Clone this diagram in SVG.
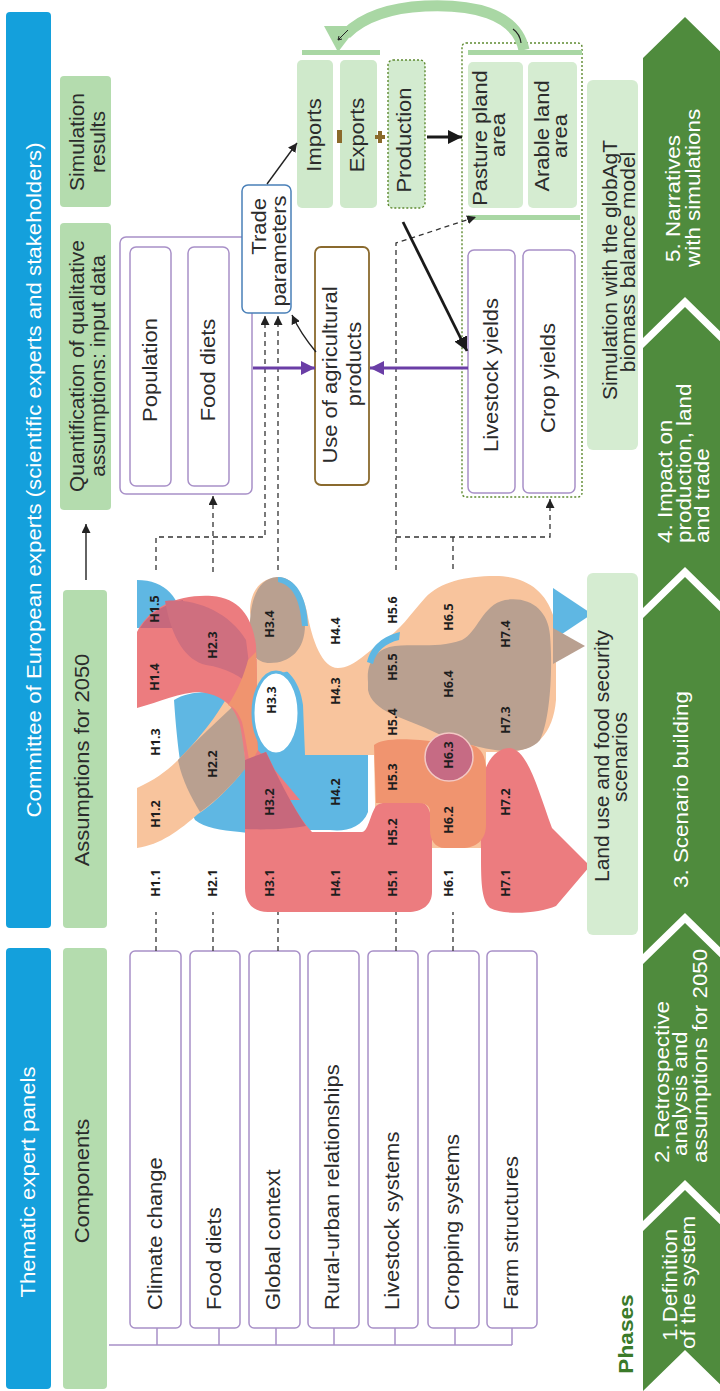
<svg xmlns="http://www.w3.org/2000/svg" width="720" height="1391" viewBox="0 0 720 1391">
<defs>
<style>
.t{font-family:"Liberation Sans",Arial,sans-serif;font-size:20px;fill:#2b2b2b}
.hd{font-family:"Liberation Sans",Arial,sans-serif;font-size:21px;fill:#fff}
.cv{font-family:"Liberation Sans",Arial,sans-serif;font-size:19.5px;fill:#fff}
.h{font-family:"Open Sans","Liberation Sans",sans-serif;font-size:12.5px;font-weight:bold;fill:#1e1e1e}
.ph{font-family:"Liberation Sans",Arial,sans-serif;font-size:21px;font-weight:bold;fill:#3a7a2a}
.bar{fill:#14a0dc}
.lab{fill:#b4dcae}
.lab2{fill:#d5ecd1}
.lab3{fill:#cfe9cb}
.comp{fill:#fff;stroke:#a890c8;stroke-width:1.5}
.dash{fill:none;stroke:#333;stroke-width:1.3;stroke-dasharray:5 4}
.thin{fill:none;stroke:#222;stroke-width:1.4}
.thick{fill:none;stroke:#1a1a1a;stroke-width:2.8}
.pur{fill:none;stroke:#6a3ea6;stroke-width:3}
.dot{stroke:#5e8a30;stroke-width:1.4;stroke-dasharray:2 2}
.chev{fill:#4f8b3d}
.gbar{fill:#a9d7a4}
</style>
<marker id="ah" viewBox="0 0 10 10" refX="10" refY="5" markerWidth="9" markerHeight="9" markerUnits="userSpaceOnUse" orient="auto"><path d="M0,0 L10,5 L0,10 Z" fill="#222"/></marker>
<marker id="ahb" viewBox="0 0 10 10" refX="10" refY="5" markerWidth="14" markerHeight="14" markerUnits="userSpaceOnUse" orient="auto"><path d="M0,0 L10,5 L0,10 Z" fill="#1a1a1a"/></marker>
<marker id="ahp" viewBox="0 0 10 10" refX="10" refY="5" markerWidth="14" markerHeight="14" markerUnits="userSpaceOnUse" orient="auto"><path d="M0,0 L10,5 L0,10 Z" fill="#6a3ea6"/></marker>
</defs>

<g id="committee">
<rect class="bar" x="6" y="12" width="45" height="916" rx="4"/>
<text class="hd" text-anchor="middle" transform="translate(41,480) rotate(-90) scale(1.06,1)">Committee of European experts (scientific experts and stakeholders)</text>
</g>
<g id="thematic">
<rect class="bar" x="6" y="948" width="45" height="441" rx="4"/>
<text class="hd" text-anchor="middle" transform="translate(35,1182) rotate(-90) scale(1.06,1)">Thematic expert panels</text>
</g>

<g id="components-label">
<rect class="lab" x="63" y="948" width="44" height="441" rx="4"/>
<text class="t" text-anchor="middle" transform="translate(89,1181) rotate(-90) scale(1.1,1)">Components</text>
</g>
<g id="assumptions-label">
<rect class="lab" x="63" y="590" width="44" height="338" rx="4"/>
<text class="t" text-anchor="middle" transform="translate(89,760) rotate(-90) scale(1.1,1)">Assumptions for 2050</text>
</g>
<g id="quantification-label">
<rect class="lab" x="60" y="223" width="51" height="287" rx="4"/>
<text class="t" text-anchor="middle" transform="translate(84,366) rotate(-90) scale(1.05,1)">Quantification of qualitative</text>
<text class="t" text-anchor="middle" transform="translate(105,366) rotate(-90) scale(1.05,1)">assumptions: input data</text>
</g>
<g id="results-label">
<rect class="lab" x="60" y="76" width="51" height="131" rx="4"/>
<text class="t" text-anchor="middle" transform="translate(84,142) rotate(-90) scale(1.05,1)">Simulation</text>
<text class="t" text-anchor="middle" transform="translate(105,142) rotate(-90) scale(1.05,1)">results</text>
</g>

<g id="comp-climate"><rect class="comp" x="130" y="951" width="51" height="377" rx="5"/><text class="t" transform="translate(161.5,1310) rotate(-90) scale(1.1,1)">Climate change</text></g>
<g id="comp-food"><rect class="comp" x="190" y="951" width="50" height="377" rx="5"/><text class="t" transform="translate(220.5,1310) rotate(-90) scale(1.1,1)">Food diets</text></g>
<g id="comp-global"><rect class="comp" x="249" y="951" width="51" height="377" rx="5"/><text class="t" transform="translate(280,1310) rotate(-90) scale(1.1,1)">Global context</text></g>
<g id="comp-rural"><rect class="comp" x="308" y="951" width="51" height="377" rx="5"/><text class="t" transform="translate(339,1310) rotate(-90) scale(1.1,1)">Rural-urban relationships</text></g>
<g id="comp-livestock"><rect class="comp" x="368" y="951" width="50" height="377" rx="5"/><text class="t" transform="translate(398.5,1310) rotate(-90) scale(1.1,1)">Livestock systems</text></g>
<g id="comp-cropping"><rect class="comp" x="428" y="951" width="51" height="377" rx="5"/><text class="t" transform="translate(459,1310) rotate(-90) scale(1.1,1)">Cropping systems</text></g>
<g id="comp-farm"><rect class="comp" x="487" y="951" width="50" height="377" rx="5"/><text class="t" transform="translate(517.5,1310) rotate(-90) scale(1.1,1)">Farm structures</text></g>

<g id="scenario-blobs">
<path fill="#5fb7e3" d="M137,580 C165,580 182,598 183,628 L137,628 Z"/>
<path fill="#5fb7e3" d="M174,700 C190,690 215,690 240,698 C248,685 255,668 268,665 C290,662 305,680 305,700 L305,755 L368,755 L368,812 C362,828 345,832 330,830 L300,830 C280,835 260,835 240,832 C220,830 205,828 195,820 C185,800 178,760 174,700 Z"/>
<path fill="#f8c49d" d="M137,788 C155,780 168,770 178,760 C200,738 228,705 245,660 L300,655 L300,672 C280,668 262,680 258,700 C255,730 250,755 240,775 C225,792 212,805 198,814 C180,830 160,845 137,848 Z"/>
<path fill="#f8c49d" d="M250,612 C250,590 262,578 276,578 C292,578 303,592 307,612 C312,640 322,668 338,668 C355,668 368,650 385,640 C400,630 410,615 425,598 C440,582 465,576 495,576 C525,576 545,590 553,615 L556,640 L556,700 C553,735 535,752 505,752 L486,752 L486,848 L376,848 L374,755 L305,755 L303,705 C300,680 285,662 260,660 Z"/>
<path fill="#b9a090" d="M178,760 C195,742 220,718 240,700 L246,768 C232,785 215,802 200,812 C190,795 182,780 178,760 Z"/>
<path fill="#b9a090" d="M250,640 C248,600 258,578 277,577 C295,577 305,595 305,625 C305,650 290,663 270,663 C258,663 250,655 250,640 Z"/>
<path fill="#5fb7e3" d="M278,577 C295,578 307,595 308,626 L302,626 C300,598 292,585 278,582 Z"/>
<path fill="#b9a090" d="M368,682 C366,660 378,648 395,646 C420,644 440,648 462,640 C478,632 482,605 505,600 C530,596 548,610 550,635 C553,670 550,720 540,740 C530,752 510,752 495,750 C470,746 450,740 430,730 C405,718 372,712 368,690 Z"/>
<path fill="#5fb7e3" d="M367,662 C371,645 384,636 400,632 L399,640 C386,643 376,651 373,664 Z"/>
<path fill="#ec7c7f" d="M137,632 C150,606 180,594 212,596 C238,598 252,615 256,645 C258,680 255,715 258,750 L300,800 L250,800 C246,770 244,745 240,725 C234,705 222,695 200,692 C180,692 160,702 137,708 Z"/>
<path fill="#c7687c" d="M140,628 C150,612 165,604 183,600 L183,628 Z"/>
<path fill="#cf6f7f" d="M165,601 C192,598 228,610 246,640 L252,688 C242,676 226,668 206,665 C186,660 172,640 165,601 Z"/>
<path fill="#f0946f" d="M228,705 C238,690 244,675 248,660 L256,652 C258,690 255,720 258,750 L250,765 C247,748 245,735 242,722 C238,712 234,707 228,705 Z"/>
<ellipse cx="276" cy="713" rx="23" ry="41" fill="#fff" stroke="#5fb7e3" stroke-width="3"/>
<path fill="#ec7c7f" d="M245,760 L266,752 C282,785 296,815 312,832 L362,832 C368,832 370,815 376,806 C380,803 385,802 392,802 L418,802 C428,802 432,812 432,830 L432,892 C432,905 422,912 408,912 L268,912 C252,912 245,902 245,888 Z"/>
<path fill="#c7687c" d="M245,760 L266,752 C280,782 292,805 306,826 C290,829 265,830 245,829 Z"/>
<path fill="#ec7c7f" d="M480,800 C480,770 492,748 510,748 C528,750 538,790 552,828 L590,866 L556,906 C540,913 505,916 490,908 C481,900 481,880 481,850 Z"/>
<path fill="#f0946f" d="M374,745 C380,740 395,738 420,740 L470,745 C480,746 486,755 486,770 L486,825 C486,840 476,848 462,848 L445,848 C435,848 430,840 430,830 L430,812 C430,806 426,803 418,803 L376,803 Z"/>
<circle cx="449" cy="757" r="24" fill="#c66b84" stroke="#f3c8c4" stroke-width="1.5"/>
<path fill="#5fb7e3" d="M553,588 L592,614 L553,640 Z"/>
<path fill="#b9a090" d="M553,628 L585,646 L553,664 Z"/>
</g>

<g id="h-labels">
<text class="h" text-anchor="middle" transform="translate(160.4,883) rotate(-90)">H1.1</text>
<text class="h" text-anchor="middle" transform="translate(160.4,814) rotate(-90)">H1.2</text>
<text class="h" text-anchor="middle" transform="translate(160.4,742) rotate(-90)">H1.3</text>
<text class="h" text-anchor="middle" transform="translate(159.4,677) rotate(-90)">H1.4</text>
<text class="h" text-anchor="middle" transform="translate(159.4,609) rotate(-90)">H1.5</text>
<text class="h" text-anchor="middle" transform="translate(217.4,883) rotate(-90)">H2.1</text>
<text class="h" text-anchor="middle" transform="translate(217.4,764) rotate(-90)">H2.2</text>
<text class="h" text-anchor="middle" transform="translate(217.4,645) rotate(-90)">H2.3</text>
<text class="h" text-anchor="middle" transform="translate(274.4,883) rotate(-90)">H3.1</text>
<text class="h" text-anchor="middle" transform="translate(274.4,802) rotate(-90)">H3.2</text>
<text class="h" text-anchor="middle" transform="translate(276.4,700) rotate(-90)">H3.3</text>
<text class="h" text-anchor="middle" transform="translate(274.4,624) rotate(-90)">H3.4</text>
<text class="h" text-anchor="middle" transform="translate(340.4,883) rotate(-90)">H4.1</text>
<text class="h" text-anchor="middle" transform="translate(340.4,792) rotate(-90)">H4.2</text>
<text class="h" text-anchor="middle" transform="translate(340.4,691) rotate(-90)">H4.3</text>
<text class="h" text-anchor="middle" transform="translate(340.4,631) rotate(-90)">H4.4</text>
<text class="h" text-anchor="middle" transform="translate(397.4,883) rotate(-90)">H5.1</text>
<text class="h" text-anchor="middle" transform="translate(397.4,832) rotate(-90)">H5.2</text>
<text class="h" text-anchor="middle" transform="translate(397.4,777) rotate(-90)">H5.3</text>
<text class="h" text-anchor="middle" transform="translate(397.4,722) rotate(-90)">H5.4</text>
<text class="h" text-anchor="middle" transform="translate(397.4,667) rotate(-90)">H5.5</text>
<text class="h" text-anchor="middle" transform="translate(397.4,610) rotate(-90)">H5.6</text>
<text class="h" text-anchor="middle" transform="translate(453.4,883) rotate(-90)">H6.1</text>
<text class="h" text-anchor="middle" transform="translate(453.4,820) rotate(-90)">H6.2</text>
<text class="h" text-anchor="middle" transform="translate(453.4,755) rotate(-90)">H6.3</text>
<text class="h" text-anchor="middle" transform="translate(453.4,684) rotate(-90)">H6.4</text>
<text class="h" text-anchor="middle" transform="translate(453.4,617) rotate(-90)">H6.5</text>
<text class="h" text-anchor="middle" transform="translate(510.4,883) rotate(-90)">H7.1</text>
<text class="h" text-anchor="middle" transform="translate(510.4,802) rotate(-90)">H7.2</text>
<text class="h" text-anchor="middle" transform="translate(510.4,720) rotate(-90)">H7.3</text>
<text class="h" text-anchor="middle" transform="translate(510.4,634) rotate(-90)">H7.4</text>
</g>

<g id="input-data">
<rect class="comp" x="120" y="237" width="132" height="257" rx="6"/>
</g>
<g id="population"><rect class="comp" x="130" y="247" width="41" height="239" rx="6"/><text class="t" text-anchor="middle" transform="translate(157,370) rotate(-90) scale(1.1,1)">Population</text></g>
<g id="food-diets-input"><rect class="comp" x="188" y="247" width="41" height="239" rx="6"/><text class="t" text-anchor="middle" transform="translate(215,370) rotate(-90) scale(1.1,1)">Food diets</text></g>
<g id="trade-parameters"><rect x="242" y="185" width="49" height="128" rx="6" fill="#fff" stroke="#4a80b8" stroke-width="1.5"/>
<text class="t" text-anchor="end" transform="translate(266,198) rotate(-90) scale(1.1,1)">Trade</text>
<text class="t" text-anchor="middle" transform="translate(286,251) rotate(-90) scale(1.1,1)">parameters</text></g>
<g id="use-agri"><rect x="315" y="247" width="54" height="238" rx="6" fill="#fff" stroke="#8a6a2e" stroke-width="1.8"/>
<text class="t" text-anchor="middle" transform="translate(337,375) rotate(-90) scale(1.1,1)">Use of agricultural</text>
<text class="t" text-anchor="middle" transform="translate(361,364) rotate(-90) scale(1.1,1)">products</text></g>

<g id="model-box">
<rect x="462" y="43" width="120" height="454" rx="4" fill="none" class="dot"/>
</g>
<g id="livestock-yields"><rect class="comp" x="468" y="250" width="47" height="243" rx="6"/><text class="t" text-anchor="middle" transform="translate(498,375) rotate(-90) scale(1.1,1)">Livestock yields</text></g>
<g id="crop-yields"><rect class="comp" x="523" y="250" width="52" height="243" rx="6"/><text class="t" text-anchor="middle" transform="translate(555,378) rotate(-90) scale(1.1,1)">Crop yields</text></g>
<g id="imports"><rect class="lab3" x="297" y="60" width="36" height="148" rx="5"/><text class="t" text-anchor="middle" transform="translate(321,135) rotate(-90) scale(1.1,1)">Imports</text></g>
<g id="exports"><rect class="lab3" x="340" y="60" width="37" height="148" rx="5"/><text class="t" text-anchor="middle" transform="translate(364,135) rotate(-90) scale(1.1,1)">Exports</text></g>
<g id="production"><rect x="388" y="60" width="37" height="148" rx="5" fill="#d3ebd0" class="dot"/><text class="t" text-anchor="middle" transform="translate(411,140) rotate(-90) scale(1.1,1)">Production</text></g>
<g id="signs">
<rect x="337" y="130" width="5" height="13" fill="#8b6a2b"/>
<rect x="375" y="135" width="10" height="4" fill="#8b6a2b"/>
<rect x="378" y="131" width="4" height="12" fill="#8b6a2b"/>
</g>
<g id="pasture"><rect class="lab2" x="468" y="62" width="55" height="146" rx="5"/>
<text class="t" text-anchor="middle" transform="translate(487,138) rotate(-90) scale(1.1,1)">Pasture pland</text>
<text class="t" text-anchor="middle" transform="translate(505,135) rotate(-90) scale(1.1,1)">area</text></g>
<g id="arable"><rect class="lab2" x="528" y="62" width="49" height="146" rx="5"/>
<text class="t" text-anchor="middle" transform="translate(549,136) rotate(-90) scale(1.1,1)">Arable land</text>
<text class="t" text-anchor="middle" transform="translate(567,136) rotate(-90) scale(1.1,1)">area</text></g>
<g id="bars">
<rect class="gbar" x="302" y="50" width="78" height="5"/>
<rect class="gbar" x="468" y="50" width="114" height="5"/>
<rect class="gbar" x="468" y="215" width="112" height="5"/>
</g>
<g id="simulation-label"><rect class="lab2" x="587" y="80" width="51" height="370" rx="6"/>
<text class="t" text-anchor="middle" transform="translate(617,270) rotate(-90) scale(1.05,1)">Simulation with the globAgT</text>
<text class="t" text-anchor="middle" transform="translate(635,262) rotate(-90) scale(1.05,1)">biomass balance model</text></g>
<g id="scenarios-label"><rect class="lab2" x="587" y="573" width="51" height="362" rx="6"/>
<text class="t" text-anchor="middle" transform="translate(609,756) rotate(-90) scale(1.05,1)">Land use and food security</text>
<text class="t" text-anchor="middle" transform="translate(627,757) rotate(-90) scale(1.05,1)">scenarios</text></g>

<g id="connectors">
<path class="dash" d="M156,951 V912 M213,951 V912 M278,951 V912 M396,951 V912 M453,951 V912"/>
<path class="dash" d="M156,570 V537 H265 V316" marker-end="url(#ah)"/>
<path class="dash" d="M213,572 V496" marker-end="url(#ah)"/>
<path class="dash" d="M278,570 V316" marker-end="url(#ah)"/>
<path class="dash" d="M396,570 V243 L476,217" marker-end="url(#ah)"/>
<path class="dash" d="M396,537 H550 V499" marker-end="url(#ah)"/>
<path class="dash" d="M453,537 V570"/>
<path class="thin" d="M86,580 V524" marker-end="url(#ah)"/>
<path class="thin" d="M267,184 L297,143" marker-end="url(#ah)"/>
<path class="thin" d="M316,352 C306,340 298,328 292,315" marker-end="url(#ah)"/>
<path class="thick" d="M427,137 H462" marker-end="url(#ahb)"/>
<path class="thick" d="M403,222 L467,351" marker-end="url(#ahb)"/>
<path class="pur" d="M253,368 H315" marker-end="url(#ahp)"/>
<path class="pur" d="M468,368 H370" marker-end="url(#ahp)"/>
<path d="M109,1345 H512 M157,1328 V1345 M219,1328 V1345 M276,1328 V1345 M334,1328 V1345 M395,1328 V1345 M455,1328 V1345 M512,1328 V1345" fill="none" stroke="#a890c8" stroke-width="1.5"/>
<path d="M524,50 C516,12 470,4 425,6 C385,8 360,20 346,34" fill="none" stroke="#a9d7a4" stroke-width="11"/>
<path d="M324,26 L358,26 L338,52 Z" fill="#a9d7a4"/>
<path d="M348,30 L338,40 M338,40 L342,39 M338,40 L339,36" stroke="#222" stroke-width="1" fill="none"/>
<path d="M513,29 Q520,34 521,43" stroke="#222" stroke-width="1.2" fill="none"/>
</g>

<g id="phases">
<text class="ph" text-anchor="middle" transform="translate(633,1334) rotate(-90) scale(1.08,1)">Phases</text>
<polygon class="chev" points="643,58 685,17 727,58 727,338 685,297 643,338"/>
<polygon class="chev" points="643,348 685,307 727,348 727,608 685,567 643,608"/>
<polygon class="chev" points="643,618 685,577 727,618 727,954 685,913 643,954"/>
<polygon class="chev" points="643,964 685,923 727,964 727,1221 685,1180 643,1221"/>
<polygon class="chev" points="643,1231 685,1190 727,1231 727,1391 685,1350 643,1391"/>
<text class="cv" transform="translate(680,262) rotate(-90) scale(1.15,1)">5. Narratives</text>
<text class="cv" transform="translate(700,267) rotate(-90) scale(1.15,1)">with simulations</text>
<text class="cv" transform="translate(672,543) rotate(-90) scale(1.15,1)">4. Impact on</text>
<text class="cv" transform="translate(691,543) rotate(-90) scale(1.15,1)">production, land</text>
<text class="cv" transform="translate(709,543) rotate(-90) scale(1.15,1)">and trade</text>
<text class="cv" transform="translate(688,888) rotate(-90) scale(1.15,1)">3. Scenario building</text>
<text class="cv" transform="translate(669,1163) rotate(-90) scale(1.15,1)">2. Retrospective</text>
<text class="cv" transform="translate(687,1156) rotate(-90) scale(1.15,1)">analysis and</text>
<text class="cv" transform="translate(707,1163) rotate(-90) scale(1.15,1)">assumptions for 2050</text>
<text class="cv" transform="translate(677,1341) rotate(-90) scale(1.15,1)">1.Definition</text>
<text class="cv" transform="translate(695,1349) rotate(-90) scale(1.15,1)">of the system</text>
</g>
</svg>
